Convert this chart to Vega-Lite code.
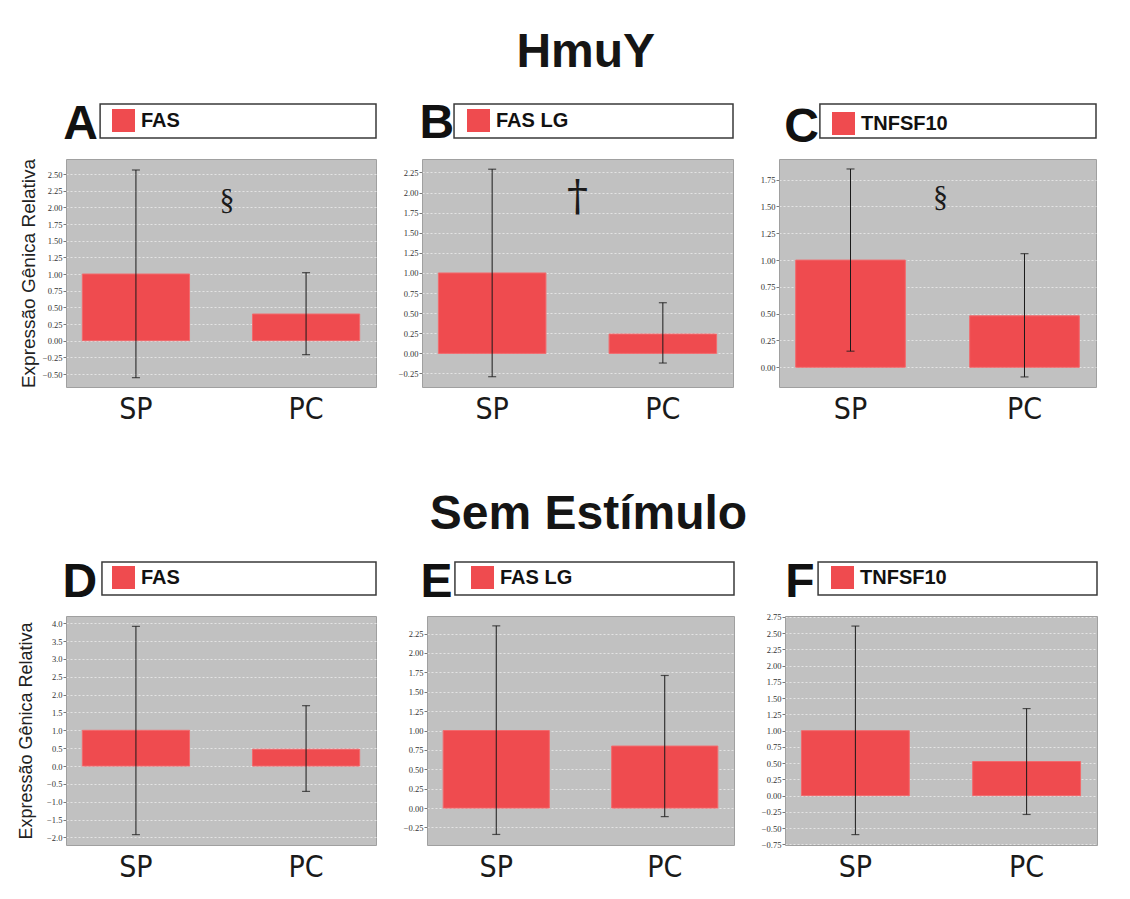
{
  "$schema": "https://vega.github.io/schema/vega-lite/v6.json",
  "background": "white",
  "padding": {"left": 17, "top": 29, "right": 5, "bottom": 5},
  "datasets": {
    "hmuy_fas": [
      {"grupo": "SP", "gene": "FAS", "media": 1.0, "inf": -0.555, "sup": 2.56},
      {"grupo": "PC", "gene": "FAS", "media": 0.40, "inf": -0.21, "sup": 1.02}
    ],
    "hmuy_faslg": [
      {"grupo": "SP", "gene": "FAS LG", "media": 1.0, "inf": -0.29, "sup": 2.29},
      {"grupo": "PC", "gene": "FAS LG", "media": 0.24, "inf": -0.12, "sup": 0.63}
    ],
    "hmuy_tnfsf10": [
      {"grupo": "SP", "gene": "TNFSF10", "media": 1.0, "inf": 0.15, "sup": 1.85},
      {"grupo": "PC", "gene": "TNFSF10", "media": 0.48, "inf": -0.09, "sup": 1.06}
    ],
    "sem_fas": [
      {"grupo": "SP", "gene": "FAS", "media": 1.0, "inf": -1.92, "sup": 3.91},
      {"grupo": "PC", "gene": "FAS", "media": 0.47, "inf": -0.71, "sup": 1.69}
    ],
    "sem_faslg": [
      {"grupo": "SP", "gene": "FAS LG", "media": 1.0, "inf": -0.34, "sup": 2.35},
      {"grupo": "PC", "gene": "FAS LG", "media": 0.80, "inf": -0.11, "sup": 1.71}
    ],
    "sem_tnfsf10": [
      {"grupo": "SP", "gene": "TNFSF10", "media": 1.0, "inf": -0.60, "sup": 2.61},
      {"grupo": "PC", "gene": "TNFSF10", "media": 0.525, "inf": -0.29, "sup": 1.34}
    ]
  },
  "spacing": 66,
  "resolve": {"scale": {"color": "independent"}, "legend": {"color": "independent"}},
  "vconcat": [
    {
      "title": {"text": "HmuY", "fontSize": 48, "font": "Liberation Sans", "fontWeight": "bold", "color": "#151515", "anchor": "middle", "offset": 23, "dx": 28},
      "columns": 3,
      "bounds": "flush",
      "align": "each",
      "spacing": {"row": 21, "column": 46},
      "resolve": {"scale": {"color": "independent"}, "legend": {"color": "independent"}},
      "concat": [
        {
          "width": 310, "height": 34,
          "view": {"fill": null, "stroke": null},
          "data": {"values": [{"letra": "A"}]},
          "layer": [
            {"mark": {"type": "rect", "fill": "white", "stroke": "#3a3a3a", "strokeWidth": 1.5},
             "encoding": {"x": {"datum": 0.11, "type": "quantitative", "scale": {"domain": [0, 1]}, "axis": null}, "x2": {"datum": 1}, "y": {"datum": 0, "type": "quantitative", "scale": {"domain": [0, 1]}, "axis": null}, "y2": {"datum": 1}}},
            {"mark": {"type": "text", "font": "Liberation Sans", "fontSize": 48, "fontWeight": "bold", "color": "#111", "baseline": "middle"},
             "encoding": {"x": {"datum": 0.047, "type": "quantitative", "scale": {"domain": [0, 1]}, "axis": null}, "y": {"datum": 0.37, "type": "quantitative", "scale": {"domain": [0, 1]}, "axis": null}, "text": {"field": "letra"}}}
          ]
        },
        {
          "width": 311, "height": 34,
          "view": {"fill": null, "stroke": null},
          "data": {"values": [{"letra": "B"}]},
          "layer": [
            {"mark": {"type": "rect", "fill": "white", "stroke": "#3a3a3a", "strokeWidth": 1.5},
             "encoding": {"x": {"datum": 0.103, "type": "quantitative", "scale": {"domain": [0, 1]}, "axis": null}, "x2": {"datum": 1}, "y": {"datum": 0, "type": "quantitative", "scale": {"domain": [0, 1]}, "axis": null}, "y2": {"datum": 1}}},
            {"mark": {"type": "text", "font": "Liberation Sans", "fontSize": 48, "fontWeight": "bold", "color": "#111", "baseline": "middle"},
             "encoding": {"x": {"datum": 0.048, "type": "quantitative", "scale": {"domain": [0, 1]}, "axis": null}, "y": {"datum": 0.41, "type": "quantitative", "scale": {"domain": [0, 1]}, "axis": null}, "text": {"field": "letra"}}}
          ]
        },
        {
          "width": 317, "height": 34,
          "view": {"fill": null, "stroke": null},
          "data": {"values": [{"letra": "C"}]},
          "layer": [
            {"mark": {"type": "rect", "fill": "white", "stroke": "#3a3a3a", "strokeWidth": 1.5},
             "encoding": {"x": {"datum": 0.129, "type": "quantitative", "scale": {"domain": [0, 1]}, "axis": null}, "x2": {"datum": 1}, "y": {"datum": 0, "type": "quantitative", "scale": {"domain": [0, 1]}, "axis": null}, "y2": {"datum": 1}}},
            {"mark": {"type": "text", "font": "Liberation Sans", "fontSize": 48, "fontWeight": "bold", "color": "#111", "baseline": "middle"},
             "encoding": {"x": {"datum": 0.071, "type": "quantitative", "scale": {"domain": [0, 1]}, "axis": null}, "y": {"datum": 0.3, "type": "quantitative", "scale": {"domain": [0, 1]}, "axis": null}, "text": {"field": "letra"}}}
          ]
        },
        {
          "width": 310, "height": 228,
          "data": {"name": "hmuy_fas"},
          "layer": [
            {"mark": {"type": "bar", "stroke": "#f26a6d", "strokeWidth": 1},
             "encoding": {
               "x": {"field": "grupo", "type": "nominal", "sort": ["SP", "PC"], "title": null, "scale": {"paddingInner": 0.37, "paddingOuter": 0.096}},
               "y": {"field": "media", "type": "quantitative", "title": "Expressão Gênica Relativa", "scale": {"domain": [-0.695, 2.725], "nice": false, "zero": false}, "axis": {"values": [-0.5, -0.25, 0, 0.25, 0.5, 0.75, 1, 1.25, 1.5, 1.75, 2, 2.25, 2.5], "format": ".2f", "titleFontSize": 19}},
               "color": {"field": "gene", "type": "nominal", "scale": {"range": ["#ef4b4f"]}, "legend": {"orient": "none", "legendX": 46, "legendY": -50, "title": null}}
             }},
            {"mark": {"type": "rule", "color": "#1a1a1a", "strokeWidth": 1},
             "encoding": {"x": {"field": "grupo", "type": "nominal", "sort": ["SP", "PC"], "title": null}, "y": {"field": "inf", "type": "quantitative", "title": "Expressão Gênica Relativa"}, "y2": {"field": "sup"}}},
            {"mark": {"type": "tick", "color": "#1a1a1a", "size": 8, "thickness": 1.2},
             "encoding": {"x": {"field": "grupo", "type": "nominal", "sort": ["SP", "PC"], "title": null}, "y": {"field": "inf", "type": "quantitative", "title": "Expressão Gênica Relativa"}}},
            {"mark": {"type": "tick", "color": "#1a1a1a", "size": 8, "thickness": 1.2},
             "encoding": {"x": {"field": "grupo", "type": "nominal", "sort": ["SP", "PC"], "title": null}, "y": {"field": "sup", "type": "quantitative", "title": "Expressão Gênica Relativa"}}},
            {"data": {"values": [{"sinal": "§"}]},
             "mark": {"type": "text", "font": "Liberation Serif", "fontSize": 30, "color": "#1a1a1a", "baseline": "middle", "dx": 6},
             "encoding": {"y": {"datum": 2.11, "type": "quantitative"}, "text": {"field": "sinal"}}}
          ]
        },
        {
          "width": 311, "height": 228,
          "data": {"name": "hmuy_faslg"},
          "layer": [
            {"mark": {"type": "bar", "stroke": "#f26a6d", "strokeWidth": 1},
             "encoding": {
               "x": {"field": "grupo", "type": "nominal", "sort": ["SP", "PC"], "title": null, "scale": {"paddingInner": 0.37, "paddingOuter": 0.096}},
               "y": {"field": "media", "type": "quantitative", "title": null, "scale": {"domain": [-0.418, 2.417], "nice": false, "zero": false}, "axis": {"values": [-0.25, 0, 0.25, 0.5, 0.75, 1, 1.25, 1.5, 1.75, 2, 2.25], "format": ".2f"}},
               "color": {"field": "gene", "type": "nominal", "scale": {"range": ["#ef4b4f"]}, "legend": {"orient": "none", "legendX": 45, "legendY": -50, "title": null}}
             }},
            {"mark": {"type": "rule", "color": "#1a1a1a", "strokeWidth": 1},
             "encoding": {"x": {"field": "grupo", "type": "nominal", "sort": ["SP", "PC"], "title": null}, "y": {"field": "inf", "type": "quantitative", "title": null}, "y2": {"field": "sup"}}},
            {"mark": {"type": "tick", "color": "#1a1a1a", "size": 8, "thickness": 1.2},
             "encoding": {"x": {"field": "grupo", "type": "nominal", "sort": ["SP", "PC"], "title": null}, "y": {"field": "inf", "type": "quantitative", "title": null}}},
            {"mark": {"type": "tick", "color": "#1a1a1a", "size": 8, "thickness": 1.2},
             "encoding": {"x": {"field": "grupo", "type": "nominal", "sort": ["SP", "PC"], "title": null}, "y": {"field": "sup", "type": "quantitative", "title": null}}},
            {"data": {"values": [{"sinal": "†"}]},
             "mark": {"type": "text", "font": "DejaVu Serif", "fontSize": 42, "color": "#1a1a1a", "baseline": "middle"},
             "encoding": {"y": {"datum": 1.95, "type": "quantitative"}, "text": {"field": "sinal"}}}
          ]
        },
        {
          "width": 317, "height": 228,
          "data": {"name": "hmuy_tnfsf10"},
          "layer": [
            {"mark": {"type": "bar", "stroke": "#f26a6d", "strokeWidth": 1},
             "encoding": {
               "x": {"field": "grupo", "type": "nominal", "sort": ["SP", "PC"], "title": null, "scale": {"paddingInner": 0.37, "paddingOuter": 0.096}},
               "y": {"field": "media", "type": "quantitative", "title": null, "scale": {"domain": [-0.184, 1.943], "nice": false, "zero": false}, "axis": {"values": [0, 0.25, 0.5, 0.75, 1, 1.25, 1.5, 1.75], "format": ".2f"}},
               "color": {"field": "gene", "type": "nominal", "scale": {"range": ["#ef4b4f"]}, "legend": {"orient": "none", "legendX": 53, "legendY": -47, "title": null}}
             }},
            {"mark": {"type": "rule", "color": "#1a1a1a", "strokeWidth": 1},
             "encoding": {"x": {"field": "grupo", "type": "nominal", "sort": ["SP", "PC"], "title": null}, "y": {"field": "inf", "type": "quantitative", "title": null}, "y2": {"field": "sup"}}},
            {"mark": {"type": "tick", "color": "#1a1a1a", "size": 8, "thickness": 1.2},
             "encoding": {"x": {"field": "grupo", "type": "nominal", "sort": ["SP", "PC"], "title": null}, "y": {"field": "inf", "type": "quantitative", "title": null}}},
            {"mark": {"type": "tick", "color": "#1a1a1a", "size": 8, "thickness": 1.2},
             "encoding": {"x": {"field": "grupo", "type": "nominal", "sort": ["SP", "PC"], "title": null}, "y": {"field": "sup", "type": "quantitative", "title": null}}},
            {"data": {"values": [{"sinal": "§"}]},
             "mark": {"type": "text", "font": "Liberation Serif", "fontSize": 30, "color": "#1a1a1a", "baseline": "middle", "dx": 3},
             "encoding": {"y": {"datum": 1.585, "type": "quantitative"}, "text": {"field": "sinal"}}}
          ]
        }
      ]
    },
    {
      "title": {"text": "Sem Estímulo", "fontSize": 48, "font": "Liberation Sans", "fontWeight": "bold", "color": "#151515", "anchor": "middle", "offset": 20, "dx": 31},
      "columns": 3,
      "bounds": "flush",
      "align": "each",
      "spacing": {"row": 21, "column": 51},
      "resolve": {"scale": {"color": "independent"}, "legend": {"color": "independent"}},
      "concat": [
        {
          "width": 310, "height": 33,
          "view": {"fill": null, "stroke": null},
          "data": {"values": [{"letra": "D"}]},
          "layer": [
            {"mark": {"type": "rect", "fill": "white", "stroke": "#3a3a3a", "strokeWidth": 1.5},
             "encoding": {"x": {"datum": 0.116, "type": "quantitative", "scale": {"domain": [0, 1]}, "axis": null}, "x2": {"datum": 1}, "y": {"datum": 0, "type": "quantitative", "scale": {"domain": [0, 1]}, "axis": null}, "y2": {"datum": 1}}},
            {"mark": {"type": "text", "font": "Liberation Sans", "fontSize": 48, "fontWeight": "bold", "color": "#111", "baseline": "middle"},
             "encoding": {"x": {"datum": 0.045, "type": "quantitative", "scale": {"domain": [0, 1]}, "axis": null}, "y": {"datum": 0.36, "type": "quantitative", "scale": {"domain": [0, 1]}, "axis": null}, "text": {"field": "letra"}}}
          ]
        },
        {
          "width": 307, "height": 33,
          "view": {"fill": null, "stroke": null},
          "data": {"values": [{"letra": "E"}]},
          "layer": [
            {"mark": {"type": "rect", "fill": "white", "stroke": "#3a3a3a", "strokeWidth": 1.5},
             "encoding": {"x": {"datum": 0.091, "type": "quantitative", "scale": {"domain": [0, 1]}, "axis": null}, "x2": {"datum": 1}, "y": {"datum": 0, "type": "quantitative", "scale": {"domain": [0, 1]}, "axis": null}, "y2": {"datum": 1}}},
            {"mark": {"type": "text", "font": "Liberation Sans", "fontSize": 48, "fontWeight": "bold", "color": "#111", "baseline": "middle"},
             "encoding": {"x": {"datum": 0.031, "type": "quantitative", "scale": {"domain": [0, 1]}, "axis": null}, "y": {"datum": 0.36, "type": "quantitative", "scale": {"domain": [0, 1]}, "axis": null}, "text": {"field": "letra"}}}
          ]
        },
        {
          "width": 312, "height": 33,
          "view": {"fill": null, "stroke": null},
          "data": {"values": [{"letra": "F"}]},
          "layer": [
            {"mark": {"type": "rect", "fill": "white", "stroke": "#3a3a3a", "strokeWidth": 1.5},
             "encoding": {"x": {"datum": 0.106, "type": "quantitative", "scale": {"domain": [0, 1]}, "axis": null}, "x2": {"datum": 1}, "y": {"datum": 0, "type": "quantitative", "scale": {"domain": [0, 1]}, "axis": null}, "y2": {"datum": 1}}},
            {"mark": {"type": "text", "font": "Liberation Sans", "fontSize": 48, "fontWeight": "bold", "color": "#111", "baseline": "middle"},
             "encoding": {"x": {"datum": 0.048, "type": "quantitative", "scale": {"domain": [0, 1]}, "axis": null}, "y": {"datum": 0.36, "type": "quantitative", "scale": {"domain": [0, 1]}, "axis": null}, "text": {"field": "letra"}}}
          ]
        },
        {
          "width": 310, "height": 229,
          "data": {"name": "sem_fas"},
          "layer": [
            {"mark": {"type": "bar", "stroke": "#f26a6d", "strokeWidth": 1},
             "encoding": {
               "x": {"field": "grupo", "type": "nominal", "sort": ["SP", "PC"], "title": null, "scale": {"paddingInner": 0.37, "paddingOuter": 0.096}},
               "y": {"field": "media", "type": "quantitative", "title": "Expressão Gênica Relativa", "scale": {"domain": [-2.21, 4.2], "nice": false, "zero": false}, "axis": {"values": [-2, -1.5, -1, -0.5, 0, 0.5, 1, 1.5, 2, 2.5, 3, 3.5, 4], "format": ".1f", "titleFontSize": 18, "titlePadding": 11}},
               "color": {"field": "gene", "type": "nominal", "scale": {"range": ["#ef4b4f"]}, "legend": {"orient": "none", "legendX": 46, "legendY": -50, "title": null}}
             }},
            {"mark": {"type": "rule", "color": "#1a1a1a", "strokeWidth": 1},
             "encoding": {"x": {"field": "grupo", "type": "nominal", "sort": ["SP", "PC"], "title": null}, "y": {"field": "inf", "type": "quantitative", "title": "Expressão Gênica Relativa"}, "y2": {"field": "sup"}}},
            {"mark": {"type": "tick", "color": "#1a1a1a", "size": 8, "thickness": 1.2},
             "encoding": {"x": {"field": "grupo", "type": "nominal", "sort": ["SP", "PC"], "title": null}, "y": {"field": "inf", "type": "quantitative", "title": "Expressão Gênica Relativa"}}},
            {"mark": {"type": "tick", "color": "#1a1a1a", "size": 8, "thickness": 1.2},
             "encoding": {"x": {"field": "grupo", "type": "nominal", "sort": ["SP", "PC"], "title": null}, "y": {"field": "sup", "type": "quantitative", "title": "Expressão Gênica Relativa"}}}
          ]
        },
        {
          "width": 307, "height": 229,
          "data": {"name": "sem_faslg"},
          "layer": [
            {"mark": {"type": "bar", "stroke": "#f26a6d", "strokeWidth": 1},
             "encoding": {
               "x": {"field": "grupo", "type": "nominal", "sort": ["SP", "PC"], "title": null, "scale": {"paddingInner": 0.37, "paddingOuter": 0.096}},
               "y": {"field": "media", "type": "quantitative", "title": null, "scale": {"domain": [-0.476, 2.477], "nice": false, "zero": false}, "axis": {"values": [-0.25, 0, 0.25, 0.5, 0.75, 1, 1.25, 1.5, 1.75, 2, 2.25], "format": ".2f"}},
               "color": {"field": "gene", "type": "nominal", "scale": {"range": ["#ef4b4f"]}, "legend": {"orient": "none", "legendX": 44, "legendY": -50, "title": null}}
             }},
            {"mark": {"type": "rule", "color": "#1a1a1a", "strokeWidth": 1},
             "encoding": {"x": {"field": "grupo", "type": "nominal", "sort": ["SP", "PC"], "title": null}, "y": {"field": "inf", "type": "quantitative", "title": null}, "y2": {"field": "sup"}}},
            {"mark": {"type": "tick", "color": "#1a1a1a", "size": 8, "thickness": 1.2},
             "encoding": {"x": {"field": "grupo", "type": "nominal", "sort": ["SP", "PC"], "title": null}, "y": {"field": "inf", "type": "quantitative", "title": null}}},
            {"mark": {"type": "tick", "color": "#1a1a1a", "size": 8, "thickness": 1.2},
             "encoding": {"x": {"field": "grupo", "type": "nominal", "sort": ["SP", "PC"], "title": null}, "y": {"field": "sup", "type": "quantitative", "title": null}}}
          ]
        },
        {
          "width": 312, "height": 229,
          "data": {"name": "sem_tnfsf10"},
          "layer": [
            {"mark": {"type": "bar", "stroke": "#f26a6d", "strokeWidth": 1},
             "encoding": {
               "x": {"field": "grupo", "type": "nominal", "sort": ["SP", "PC"], "title": null, "scale": {"paddingInner": 0.37, "paddingOuter": 0.096}},
               "y": {"field": "media", "type": "quantitative", "title": null, "scale": {"domain": [-0.76, 2.765], "nice": false, "zero": false}, "axis": {"values": [-0.75, -0.5, -0.25, 0, 0.25, 0.5, 0.75, 1, 1.25, 1.5, 1.75, 2, 2.25, 2.5, 2.75], "format": ".2f"}},
               "color": {"field": "gene", "type": "nominal", "scale": {"range": ["#ef4b4f"]}, "legend": {"orient": "none", "legendX": 46, "legendY": -50, "title": null}}
             }},
            {"mark": {"type": "rule", "color": "#1a1a1a", "strokeWidth": 1},
             "encoding": {"x": {"field": "grupo", "type": "nominal", "sort": ["SP", "PC"], "title": null}, "y": {"field": "inf", "type": "quantitative", "title": null}, "y2": {"field": "sup"}}},
            {"mark": {"type": "tick", "color": "#1a1a1a", "size": 8, "thickness": 1.2},
             "encoding": {"x": {"field": "grupo", "type": "nominal", "sort": ["SP", "PC"], "title": null}, "y": {"field": "inf", "type": "quantitative", "title": null}}},
            {"mark": {"type": "tick", "color": "#1a1a1a", "size": 8, "thickness": 1.2},
             "encoding": {"x": {"field": "grupo", "type": "nominal", "sort": ["SP", "PC"], "title": null}, "y": {"field": "sup", "type": "quantitative", "title": null}}}
          ]
        }
      ]
    }
  ],
  "config": {
    "font": "Liberation Sans",
    "view": {"fill": "#c1c1c1", "stroke": "#a0a0a0", "strokeWidth": 1},
    "axisX": {"labelFont": "DejaVu Sans Condensed, Liberation Sans, sans-serif", "labelFontSize": 30, "labelColor": "#1a1a1a", "ticks": false, "domain": false, "grid": false, "labelPadding": 7, "labelAngle": 0},
    "axisY": {"labelFont": "Liberation Serif", "labelFontSize": 8.5, "labelColor": "#333333", "tickCount": 30, "tickSize": 3, "tickColor": "#7a7a7a", "labelPadding": 1, "domain": false, "grid": true, "gridColor": "#e4e4e4", "gridDash": [2, 2], "gridWidth": 1, "labelFlush": false, "labelOverlap": false, "titleFont": "Liberation Sans", "titleFontSize": 17, "titleFontWeight": "normal", "titleColor": "#222222", "titlePadding": 4},
    "legend": {"symbolType": "square", "symbolSize": 529, "symbolStrokeWidth": 0, "labelFont": "Liberation Sans", "labelFontSize": 20, "labelFontWeight": "bold", "labelColor": "#111111", "labelOffset": 6, "padding": 0}
  }
}
